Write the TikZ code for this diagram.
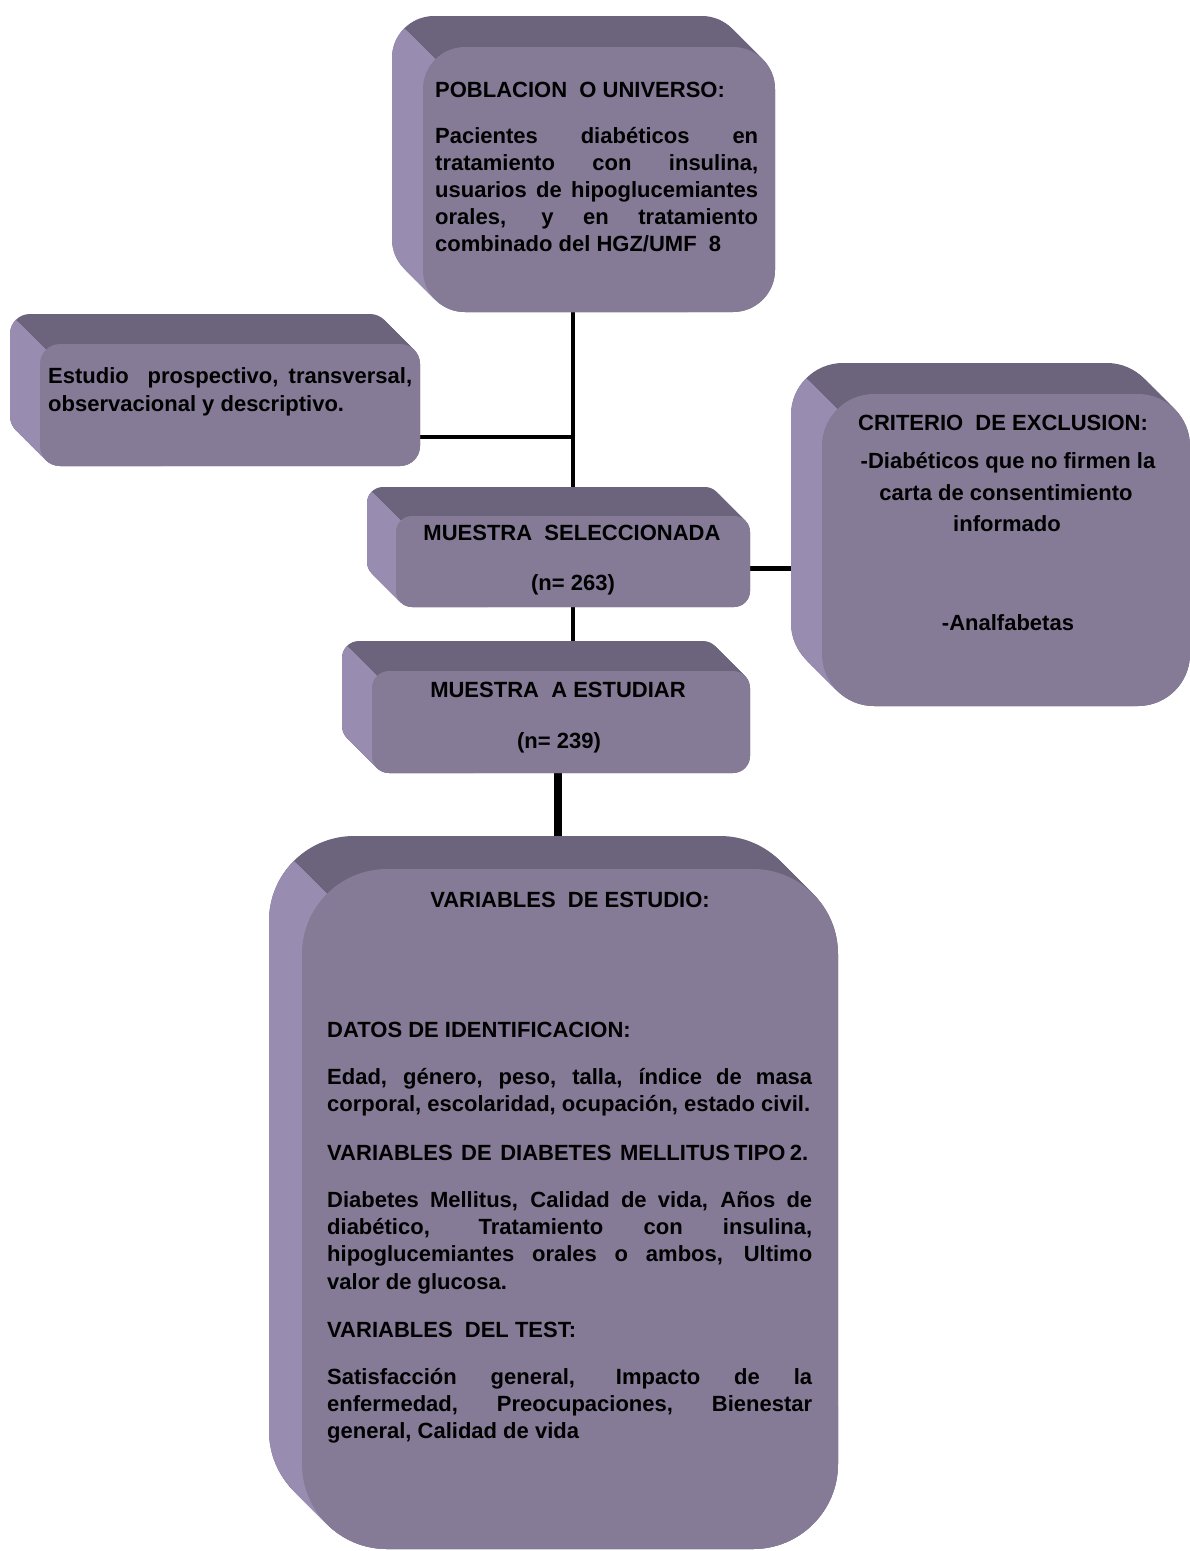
\documentclass[tikz,border=0pt]{standalone}
\usepackage{fontspec}
\setmainfont{Liberation Sans}
\usetikzlibrary{fit,backgrounds}
\definecolor{frontc}{RGB}{133,123,150}
\definecolor{topc}{RGB}{108,99,124}
\definecolor{leftc}{RGB}{152,140,176}
\newcommand\jl[2]{\makebox[#1][s]{#2}\par}
\newcommand\pl[1]{\mbox{#1}\par}
% name, x0, y0, x1, y1 (front face, pixel coords), radius, depth
\newcommand\tdbox[7]{%
  \foreach \k in {0,...,24}{%
    \fill[topc,rounded corners=#6pt] ({#2-#7*\k/24},{#3-#7*\k/24}) rectangle ({#4-#7*\k/24},{#5-#7*\k/24});
  }%
  \begin{scope}
    \clip ({#2+0.2929*#6+600},{#3+0.2929*#6+600}) -- ({#2+0.2929*#6-600},{#3+0.2929*#6-600}) -- ++(-900,900) -- ++(1200,1200) -- cycle;
    \foreach \k in {0,...,24}{%
      \fill[leftc,rounded corners=#6pt] ({#2-#7*\k/24},{#3-#7*\k/24}) rectangle ({#4-#7*\k/24},{#5-#7*\k/24});
    }%
  \end{scope}
  \fill[frontc,rounded corners=#6pt] (#2,#3) rectangle (#4,#5);
  \coordinate (#1a) at (#2,#3);
  \coordinate (#1b) at (#4,#5);
  \node[fit=(#1a)(#1b),inner sep=0pt] (#1) {};
}
\begin{document}
\begin{tikzpicture}[x=1pt,y=-1pt,
  txt/.style={inner sep=0pt,anchor=base west,font=\fontsize{22}{27}\selectfont\bfseries},
  ctxt/.style={inner sep=0pt,anchor=base,font=\fontsize{22}{27}\selectfont\bfseries},
  conn/.style={line width=4.5pt,black},
  thickconn/.style={line width=8pt,black}]
\useasboundingbox (0,0) rectangle (1190,1551);

% boxes
\tdbox{pob}{423}{47}{775}{312}{42}{31}
\tdbox{est}{40}{344}{420}{466}{20}{30}
\tdbox{cri}{822}{394}{1190}{706}{52}{31}
\tdbox{sel}{396}{516}{750}{607}{16}{29}
\tdbox{mue}{372}{671}{750}{773}{17}{30}
\tdbox{var}{302}{869}{838}{1549}{85}{33}

% texts
\node[txt] (pobt) at (435,97) {\vtop{\hsize=323pt\parindent=0pt\parskip=0pt\baselineskip=27pt
\pl{POBLACION\ \ O UNIVERSO:}\vskip19pt
\jl{323pt}{Pacientes diabéticos en}
\jl{323pt}{tratamiento con insulina,}
\jl{323pt}{usuarios de hipoglucemiantes}
\jl{323pt}{orales, y en tratamiento}
\pl{combinado del HGZ/UMF\ \ 8}}};

\node[txt] (estt) at (48,383) {\vtop{\hsize=364pt\parindent=0pt\parskip=0pt\baselineskip=28.5pt
\jl{364pt}{Estudio\ \ prospectivo, transversal,}
\pl{observacional y descriptivo.}}};

\node[ctxt] (sel1) at (572,540) {MUESTRA\ \ SELECCIONADA};
\node[ctxt] (sel2) at (573,590) {(n= 263)};
\node[ctxt] (mue1) at (558,697) {MUESTRA\ \ A ESTUDIAR};
\node[ctxt] (mue2) at (559,748) {(n= 239)};

\node[ctxt] (cri1) at (1003,430) {CRITERIO\ \ DE EXCLUSION:};
\node[ctxt] (cri2) at (1008,468) {-Diabéticos que no firmen la};
\node[ctxt] (cri3) at (1006,500) {carta de consentimiento};
\node[ctxt] (cri4) at (1007,531) {informado};
\node[ctxt] (cri5) at (1008,630) {-Analfabetas};

\node[ctxt] (var1) at (570,907) {VARIABLES\ \ DE ESTUDIO:};
\node[txt] (vart) at (327,1037) {\vtop{\hsize=485pt\parindent=0pt\parskip=0pt\baselineskip=27.3pt
\pl{DATOS DE IDENTIFICACION:}\vskip19.7pt
\jl{485pt}{Edad, género, peso, talla, índice de masa}
\pl{corporal, escolaridad, ocupación, estado civil.}\vskip21.7pt
\jl{481pt}{VARIABLES\ \ DE\ \ DIABETES\ \ MELLITUS TIPO 2.}\vskip19.7pt
\jl{485pt}{Diabetes Mellitus, Calidad de vida, Años de}
\jl{485pt}{diabético, Tratamiento con insulina,}
\jl{485pt}{hipoglucemiantes orales o ambos, Ultimo}
\pl{valor de glucosa.}\vskip20.7pt
\pl{VARIABLES\ \ DEL TEST:}\vskip19.7pt
\jl{485pt}{Satisfacción general, Impacto de la}
\jl{485pt}{enfermedad, Preocupaciones, Bienestar}
\pl{general, Calidad de vida}}};

% connectors (behind boxes)
\coordinate (estj) at ([yshift=-32pt]est.east);
\coordinate (selj) at ([yshift=-7pt]sel.east);
\begin{pgfonlayer}{background}
  \fill[white] (0,0) rectangle (1190,1551);
  \draw[conn] (sel.north |- pob.south) -- (sel.north);
  \draw[conn] (estj) -- (estj -| sel.north);
  \draw[conn] (sel.south) -- (sel.south |- mue.north);
  \draw[conn] (selj) -- (selj -| cri.west);
  \draw[thickconn] ([xshift=-3pt]mue.south) -- ([xshift=-3pt]mue.south |- var.north);
\end{pgfonlayer}
\end{tikzpicture}
\end{document}
